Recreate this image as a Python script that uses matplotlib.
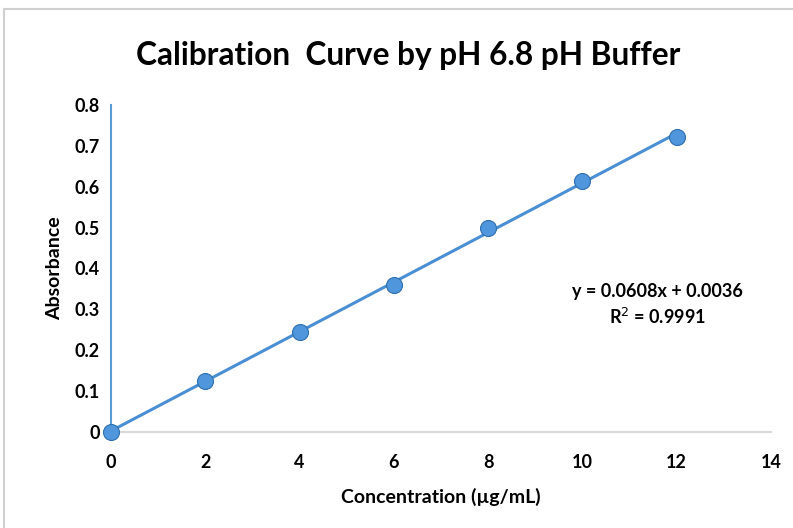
import numpy as np
import matplotlib.pyplot as plt
from matplotlib.patches import Rectangle

plt.rcParams['font.family'] = ['Lato', 'DejaVu Sans']

conc = [0, 2, 4, 6, 8, 10, 12]
absorb = [0.0, 0.125, 0.245, 0.360, 0.500, 0.614, 0.722]
x_ticks = [0, 2, 4, 6, 8, 10, 12, 14]
y_ticks = [0, 0.1, 0.2, 0.3, 0.4, 0.5, 0.6, 0.7, 0.8]
y_tick_labels = ['0', '0.1', '0.2', '0.3', '0.4', '0.5', '0.6', '0.7', '0.8']

fig = plt.figure(figsize=(7.93, 5.28), dpi=100)
ax = fig.add_axes([0.14, 0.182, 0.832, 0.619])

# chart border
fig.patches.append(Rectangle((0.005, -0.01), 1.0, 0.993, transform=fig.transFigure,
                             fill=False, edgecolor='#d0d0d0', linewidth=1.5))

# linear trendline
m, b = np.polyfit(conc, absorb, 1)
xs = np.array([conc[0], conc[-1]])
ax.plot(xs, m * xs + b, color='#4a8fd4', linewidth=2.2, zorder=2)

ax.plot(conc, absorb, linestyle='none', marker='o', markersize=11.5, clip_on=False,
        markerfacecolor='#4f96dc', markeredgecolor='#2f6fae', markeredgewidth=0.8, zorder=3)

ax.set_xlim(0, 14)
ax.set_ylim(0, 0.8)
ax.set_xticks(x_ticks)
ax.set_yticks(y_ticks)
ax.set_yticklabels(y_tick_labels)
ax.tick_params(axis='x', length=0, labelsize=13, pad=16)
ax.tick_params(axis='y', length=0, labelsize=13, pad=8)
for lab in ax.get_xticklabels() + ax.get_yticklabels():
    lab.set_fontweight('bold')

for s in ['top', 'right']:
    ax.spines[s].set_visible(False)
ax.spines['left'].set_color('#5b9bd5')
ax.spines['left'].set_linewidth(1.5)
ax.spines['bottom'].set_color('#d9d9d9')
ax.spines['bottom'].set_linewidth(1.5)

ax.set_xlabel('Concentration (µg/mL)', fontsize=14, fontweight='bold', labelpad=12)
ax.set_ylabel('Absorbance', fontsize=14, fontweight='bold', labelpad=8)

fig.text(0.515, 0.895, 'Calibration  Curve by pH 6.8 pH Buffer', ha='center', va='center',
         fontsize=22.8, fontweight='bold')

ax.text(11.6, 0.343, 'y = 0.0608x + 0.0036', ha='center', va='center', fontsize=13, fontweight='bold')
ax.text(11.6, 0.282, 'R$^2$ = 0.9991', ha='center', va='center', fontsize=13, fontweight='bold')

fig.savefig('out.png', dpi=100)
